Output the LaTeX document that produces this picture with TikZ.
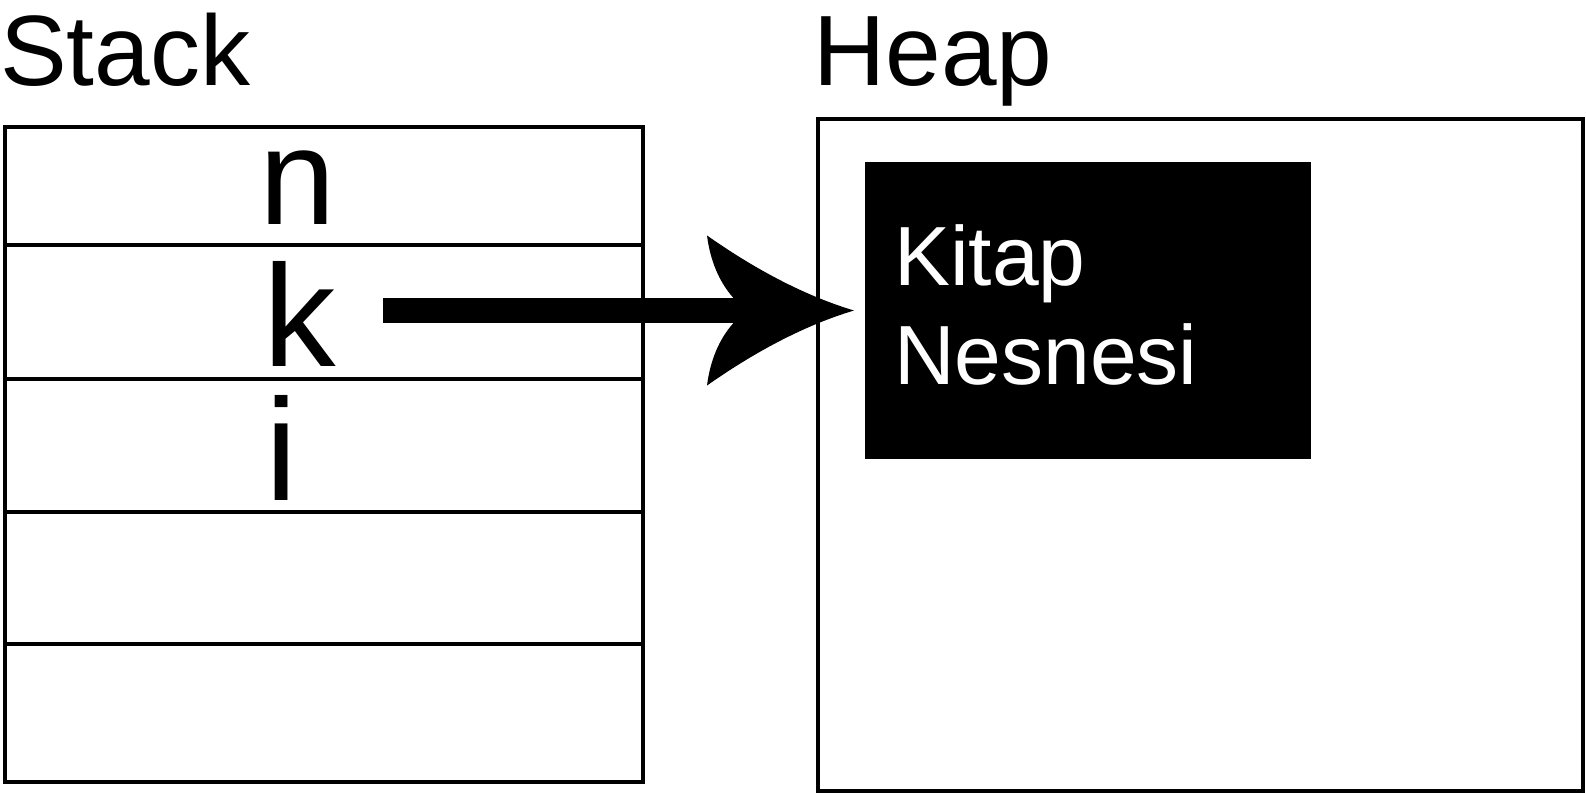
\documentclass[tikz,border=0pt]{standalone}
\usepackage{fontspec}
\setmainfont{Liberation Sans}

\tikzset{
  frame/.style={line width=4pt},
  title/.style={anchor=base west, inner sep=0pt, font=\fontsize{100}{100}\selectfont},
  cell/.style={anchor=base west, inner sep=0pt, font=\fontsize{145}{145}\selectfont},
  objtext/.style={anchor=base west, inner sep=0pt, text=white, font=\fontsize{84}{84}\selectfont},
  pointer/.style={line width=25pt, shorten >=100pt}
}

\begin{document}
\begin{tikzpicture}[x=1pt,y=-1pt]
    \useasboundingbox (0,0) rectangle (1586,794);
    % titles
    \node[title] (stack) at (0,86) {Stack};
    \node[title] (heaptitle) at (813,86) {Heap};
    % stack frames
    \draw[frame] (5,127) rectangle (643,782);
    \foreach \y in {245,379,512,644}
      \draw[frame] (5,\y) -- (643,\y);
    \node[cell, font=\fontsize{137}{137}\selectfont] (n) at (259,225) {n};
    \node[cell] (k) at (263,366) {k};
    \node[cell] (i) at (265,500.5) {i};
    % heap and object
    \node[draw, frame, inner sep=0pt, outer sep=0pt, minimum width=765pt, minimum height=672pt, anchor=north west] (heap) at (818,118.7) {};
    \node[fill=black, inner sep=0pt, outer sep=0pt, minimum width=446pt, minimum height=297pt, anchor=north west] (obj) at (865,162) {};
    \node[objtext] (kitap) at (894,285) {Kitap};
    \node[objtext] (nesnesi) at (894,384) {Nesnesi};
    % reference arrow
    \coordinate (tip) at ([xshift=-11pt]obj.west);
    \draw[pointer] (k.east |- tip) ++(47.5,0) -- (tip);
    \begin{scope}[shift={(tip)}]
      \fill (0,0) .. controls (-46.7,-14) and (-95.7,-39) .. (-147,-75)
        .. controls (-143.7,-49.7) and (-135,-29) .. (-121,-13)
        -- (-121,13) .. controls (-135,29) and (-143.7,49.7) .. (-147,75)
        .. controls (-95.7,39) and (-46.7,14) .. (0,0) -- cycle;
    \end{scope}
\end{tikzpicture}
\end{document}
